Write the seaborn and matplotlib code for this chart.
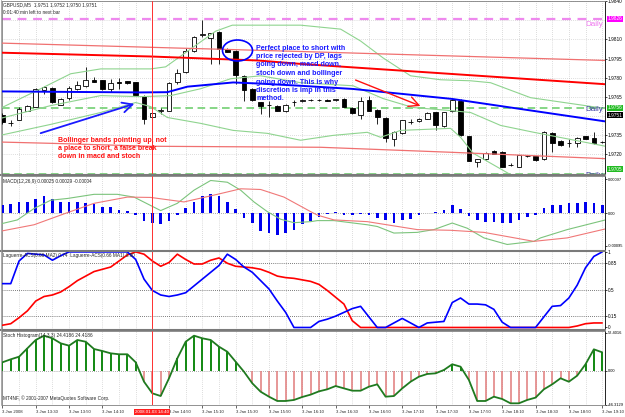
import numpy as np
import matplotlib
matplotlib.use("Agg")
import matplotlib.pyplot as plt
import matplotlib.transforms as mtransforms
from matplotlib.patches import Ellipse, FancyArrowPatch
from matplotlib.lines import Line2D
import seaborn as sns

# ---------------- data ----------------
symbol_line = "GBPUSD,M5  1.9751 1.9752 1.9750 1.9751"
timer_line = "0:01:40 min left to next bar"

open_ = [
    1.97505, 1.97448, 1.97471, 1.97543, 1.97574, 1.97704, 1.97719, 1.97590, 1.97642, 1.97711,
    1.97732, 1.97781, 1.97781, 1.97711, 1.97763, 1.97771, 1.97763, 1.97660, 1.97492, 1.97543,
    1.97543, 1.97763, 1.97841, 1.98009, 1.98136, 1.98112, 1.98156, 1.98022, 1.98009, 1.97815,
    1.97711, 1.97608, 1.97584, 1.97580, 1.97536, 1.97608, 1.97621, 1.97626, 1.97626, 1.97623,
    1.97625, 1.97634, 1.97564, 1.97505, 1.97626, 1.97548, 1.97484, 1.97323, 1.97367, 1.97453,
    1.97461, 1.97479, 1.97530, 1.97419, 1.97538, 1.97621, 1.97341, 1.97137, 1.97161, 1.97225,
    1.97220, 1.97116, 1.97104, 1.97186, 1.97186, 1.97161, 1.97367, 1.97305, 1.97290, 1.97290,
    1.97341, 1.97331, 1.97297]
high = [
    1.97523, 1.97466, 1.97574, 1.97587, 1.97716, 1.97737, 1.97725, 1.97640, 1.97737, 1.97776,
    1.97880, 1.97802, 1.97786, 1.97789, 1.97797, 1.97776, 1.97770, 1.97665, 1.97530, 1.97564,
    1.97763, 1.97867, 1.98035, 1.98123, 1.98255, 1.98151, 1.98169, 1.98030, 1.98014, 1.97820,
    1.97716, 1.97613, 1.97621, 1.97585, 1.97592, 1.97626, 1.97630, 1.97633, 1.97635, 1.97630,
    1.97635, 1.97640, 1.97569, 1.97647, 1.97660, 1.97553, 1.97489, 1.97380, 1.97471, 1.97479,
    1.97484, 1.97528, 1.97535, 1.97535, 1.97631, 1.97634, 1.97346, 1.97166, 1.97217, 1.97238,
    1.97225, 1.97135, 1.97199, 1.97194, 1.97191, 1.97380, 1.97372, 1.97310, 1.97323, 1.97336,
    1.97346, 1.97375, 1.97305]
low = [
    1.97435, 1.97419, 1.97466, 1.97538, 1.97570, 1.97673, 1.97603, 1.97585, 1.97626, 1.97706,
    1.97727, 1.97763, 1.97706, 1.97686, 1.97711, 1.97750, 1.97662, 1.97435, 1.97485, 1.97517,
    1.97538, 1.97750, 1.97836, 1.98004, 1.98118, 1.97905, 1.97905, 1.97998, 1.97750, 1.97621,
    1.97621, 1.97517, 1.97492, 1.97538, 1.97531, 1.97582, 1.97610, 1.97620, 1.97615, 1.97615,
    1.97618, 1.97570, 1.97518, 1.97479, 1.97538, 1.97440, 1.97298, 1.97264, 1.97362, 1.97435,
    1.97456, 1.97474, 1.97388, 1.97414, 1.97533, 1.97344, 1.97145, 1.97104, 1.97156, 1.97202,
    1.97099, 1.97110, 1.97099, 1.97180, 1.97150, 1.97156, 1.97220, 1.97267, 1.97259, 1.97259,
    1.97318, 1.97285, 1.97292]
close = [
    1.97453, 1.97443, 1.97556, 1.97582, 1.97711, 1.97730, 1.97608, 1.97634, 1.97717, 1.97745,
    1.97781, 1.97768, 1.97711, 1.97755, 1.97760, 1.97755, 1.97667, 1.97479, 1.97523, 1.97546,
    1.97758, 1.97833, 1.98009, 1.98118, 1.98139, 1.98146, 1.98022, 1.98004, 1.97823, 1.97704,
    1.97629, 1.97582, 1.97590, 1.97543, 1.97587, 1.97610, 1.97623, 1.97628, 1.97623, 1.97620,
    1.97632, 1.97574, 1.97523, 1.97621, 1.97543, 1.97492, 1.97331, 1.97375, 1.97466, 1.97455,
    1.97479, 1.97523, 1.97427, 1.97530, 1.97626, 1.97349, 1.97150, 1.97161, 1.97212, 1.97207,
    1.97104, 1.97118, 1.97194, 1.97188, 1.97155, 1.97375, 1.97290, 1.97272, 1.97292, 1.97331,
    1.97323, 1.97290, 1.97299]

# indicator lines on the price panel: (bar position, price)
lag_top_bar = [-0.3, 35.8, 72.4]
lag_top_px = [1.98071, 1.98005, 1.97935]
lag_mid_bar = [-0.3, 17.8, 30.6, 35.8, 53.8, 72.4]
lag_mid_px = [1.97996, 1.97966, 1.97935, 1.97908, 1.97830, 1.97749]
lag_low_bar = [-0.3, 5.8, 17.8, 38.2, 53.8, 72.4]
lag_low_px = [1.97297, 1.97287, 1.97264, 1.97256, 1.97217, 1.97167]
blue_bar = [-0.3, 16.6, 19.8, 22.2, 27.7, 30.6, 35.8, 42.1, 54.0, 72.4]
blue_px = [1.97693, 1.97685, 1.97687, 1.97730, 1.97763, 1.97755, 1.97737, 1.97712, 1.97634, 1.97458]
bb_up_bar = [-0.3, 4.6, 8.2, 11.8, 17.8, 19.6, 22.6, 25.6, 27.6, 35.8, 40.6, 43.0, 45.7, 49.0, 52.6, 56.2, 58.6, 63.4, 72.4]
bb_up_px = [1.97559, 1.97714, 1.97831, 1.97869, 1.97869, 1.97885, 1.98025, 1.98164, 1.98211, 1.98211,
            1.98180, 1.98087, 1.97955, 1.97815, 1.97784, 1.97776, 1.97761, 1.97644, 1.97559]
bb_mid_bar = [-0.3, 5.8, 11.8, 16.6, 20.2, 23.8, 27.4, 31.0, 35.8, 42.1, 45.7, 49.3, 53.8, 56.2, 59.8, 63.8, 72.4]
bb_mid_px = [1.97481, 1.97582, 1.97660, 1.97652, 1.97660, 1.97714, 1.97792, 1.97815, 1.97761, 1.97737,
             1.97637, 1.97567, 1.97543, 1.97528, 1.97427, 1.97373, 1.97264]
bb_low_bar = [-0.3, 5.8, 11.8, 16.0, 17.8, 19.8, 23.8, 27.7, 31.8, 35.8, 39.7, 43.8, 45.4, 47.8, 53.8, 55.0, 56.5, 61.3]
bb_low_px = [1.97349, 1.97435, 1.97528, 1.97606, 1.97574, 1.97489, 1.97443, 1.97388, 1.97365, 1.97311,
             1.97349, 1.97373, 1.97334, 1.97388, 1.97404, 1.97334, 1.97210, 1.97031]
daily_pivot = 1.9826
daily_mid = 1.9756
daily_low = 1.9705
bid_price = 1.9751
price_ticks = [1.9840, 1.9810, 1.9795, 1.9780, 1.9765, 1.9735, 1.9720]

# MACD
macd_hist = [
    0.00024, 0.00026, 0.00031, 0.00033, 0.00040, 0.00048, 0.00040, 0.00033, 0.00033, 0.00031,
    0.00029, 0.00026, 0.00016, 0.00016, 0.00009, 0.00007, -0.00005, -0.00022, -0.00030, -0.00033,
    -0.00022, -0.00007, 0.00014, 0.00033, 0.00049, 0.00054, 0.00048, 0.00033, 0.00011, -0.00014,
    -0.00029, -0.00052, -0.00057, -0.00065, -0.00057, -0.00048, -0.00033, -0.00024, -0.00013, -0.00002,
    0.00002, -0.00005, -0.00007, -0.00004, -0.00007, -0.00014, -0.00021, -0.00029, -0.00019, -0.00016,
    -0.00007, -0.00001, 0.00002, 0.00009, 0.00022, 0.00011, -0.00009, -0.00021, -0.00026, -0.00026,
    -0.00030, -0.00030, -0.00019, -0.00011, -0.00005, 0.00015, 0.00022, 0.00024, 0.00029, 0.00030,
    0.00031, 0.00029, 0.00024]
macd_main_bar = [-0.3, 1.8, 3.8, 5.8, 7.8, 11.0, 13.8, 15.8, 19.0, 21.0, 23.0, 25.0, 27.0, 28.6, 30.2,
                 31.8, 33.4, 35.0, 37.0, 37.8, 39.8, 41.8, 43.8, 45.0, 47.0, 49.8, 51.8, 54.0, 55.8,
                 57.8, 60.6, 63.8, 64.6, 67.8, 72.4]
macd_main = [-0.00032, -0.00020, 0.00013, 0.00037, 0.00042, 0.00054, 0.00054, 0.00046, 0.00007, 0.00028,
             0.00066, 0.00094, 0.00089, 0.00066, 0.00032, 0.00004, -0.00018, -0.00028, -0.00025, -0.00022,
             -0.00022, -0.00028, -0.00034, -0.00039, -0.00058, -0.00056, -0.00048, -0.00029, -0.00044,
             -0.00072, -0.00091, -0.00082, -0.00072, -0.00048, -0.00020]
macd_signal_bar = [-0.3, 3.8, 7.8, 11.0, 15.0, 17.8, 21.8, 25.8, 28.6, 31.0, 33.8, 37.0, 37.8, 39.8,
                   43.8, 49.8, 53.8, 57.8, 63.8, 67.8, 72.4]
macd_signal = [-0.00053, -0.00034, 0.00001, 0.00028, 0.00046, 0.00045, 0.00032, 0.00054, 0.00070, 0.00068,
               0.00046, 0.00004, -0.00006, -0.00020, -0.00025, -0.00048, -0.00050, -0.00056, -0.00082,
               -0.00072, -0.00046]

# Laguerre ACS (one value per bar)
laguerre_fast = [
    0.58, 0.58, 0.88, 0.98, 0.97, 0.96, 0.89, 0.95, 1.00, 1.00,
    1.00, 1.00, 1.00, 1.00, 1.00, 1.00, 0.90, 0.64, 0.49, 0.43,
    0.41, 0.43, 0.46, 0.55, 0.64, 0.73, 0.82, 0.97, 0.90, 0.80,
    0.73, 0.62, 0.51, 0.35, 0.20, 0.00, 0.00, 0.00, 0.08, 0.11,
    0.15, 0.20, 0.25, 0.28, 0.14, 0.00, 0.00, 0.06, 0.12, 0.06,
    0.00, 0.06, 0.07, 0.08, 0.33, 0.39, 0.31, 0.31, 0.30, 0.24,
    0.07, 0.00, 0.00, 0.00, 0.00, 0.14, 0.28, 0.29, 0.39, 0.56,
    0.79, 0.94, 1.00]
laguerre_slow = [
    0.03, 0.05, 0.13, 0.22, 0.35, 0.41, 0.43, 0.47, 0.54, 0.62,
    0.68, 0.74, 0.77, 0.80, 0.88, 0.96, 1.00, 0.97, 0.88, 0.81,
    0.86, 0.97, 0.90, 0.84, 0.84, 0.89, 0.92, 0.85, 0.81, 0.80,
    0.79, 0.77, 0.73, 0.68, 0.66, 0.65, 0.63, 0.61, 0.57, 0.49,
    0.40, 0.31, 0.09, 0.00, 0.00, 0.00, 0.00, 0.00, 0.00, 0.00,
    0.00, 0.00, 0.00, 0.00, 0.00, 0.00, 0.00, 0.00, 0.00, 0.00,
    0.00, 0.00, 0.00, 0.00, 0.00, 0.00, 0.00, 0.00, 0.00, 0.02,
    0.05, 0.06, 0.06]
laguerre_levels = [0.85, 0.5, 0.15]

# Stoch histogram
stoch_hist = [
    11.9, 16.0, 19.6, 31.1, 42.5, 48.4, 44.8, 37.9, 34.7, 42.5,
    40.1, 30.1, 27.4, 24.2, 22.9, 22.9, 11.9, -14.7, -30.6, -34.3,
    -10.0, 17.4, 40.1, 48.4, 44.8, 42.5, 33.3, 26.4, 12.7, -1.0,
    -16.9, -28.4, -35.2, -41.1, -41.1, -39.7, -35.6, -32.4, -27.9, -25.1,
    -20.6, -23.8, -27.0, -27.0, -21.5, -18.3, -35.2, -34.3, -23.8, -14.7,
    -7.8, -4.1, -3.2, 1.4, 9.2, 5.9, -12.3, -41.1, -41.1, -35.2,
    -38.4, -44.3, -44.3, -39.7, -36.5, -25.1, -18.3, -10.0, -14.7, -6.4,
    9.2, 29.7, 25.6]

time_tick_bars = [0, 4, 8, 12, 20, 24, 28, 32, 36, 40, 44, 48, 52, 56, 60, 64, 68, 72]
time_tick_labels = ["3 Jan 2008", "3 Jan 13:30", "3 Jan 13:50", "3 Jan 14:10", "3 Jan 14:50",
                    "3 Jan 15:10", "3 Jan 15:30", "3 Jan 15:50", "3 Jan 16:10", "3 Jan 16:30",
                    "3 Jan 16:50", "3 Jan 17:10", "3 Jan 17:30", "3 Jan 17:50", "3 Jan 18:10",
                    "3 Jan 18:30", "3 Jan 18:50", "3 Jan 19:10"]
cross_bar = 18
cross_label = "2008.01.03 14:40"

macd_legend = "MACD(12,26,9) 0.00025 0.00029 -0.00004"
lag_legend = "Laguerre-ACS(0.66 MA2) 0.74  Laguerre-ACS(0.66 MA1) 0.90"
stoch_legend = "Stoch Histogram(14,3,3) 24.4186 24.4186"
copyright_text = "MT4NF, \u00a9 2001-2007 MetaQuotes Software Corp."

note_blue = ("Perfect place to short with\nprice rejected by DP, lags\ngoing down, macd down,\n"
             "stoch down and bollinger\ngoing down. This is why\ndiscretion is imp in this\nmethod.")
note_red = "Bollinger bands pointing up, not\na place to short, a false break\ndown in macd and stoch"

# ---------------- drawing ----------------
sns.set_theme(style="white")
plt.rcParams['font.family'] = ['Liberation Sans', 'DejaVu Sans']

W, H = 625, 417
fig = plt.figure(figsize=(W / 100, H / 100), dpi=100)
fig.patch.set_facecolor('white')


def fx(x):
    return x / W


def fy(y):
    return 1 - y / H


XL = (-0.05, 72.34)
GRID = '#bdbdbd'


def panel(y0, y1, label_size=3.4):
    ax = fig.add_axes([fx(2), fy(y1), (605 - 2) / W, (y1 - y0) / H])
    ax.set_facecolor('white')
    ax.set_xlim(*XL)
    for s in ax.spines.values():
        s.set_color('#808080')
        s.set_linewidth(0.6)
    ax.spines['right'].set_color('black')
    ax.yaxis.tick_right()
    ax.tick_params(axis='y', length=1.6, width=0.5, labelsize=label_size, pad=0.6, colors='black', right=True)
    ax.tick_params(axis='x', bottom=False, labelbottom=False)
    for b in range(2, 73, 2):
        ax.axvline(b, color=GRID, lw=0.5, ls=(0, (1, 2)), zorder=0)
    ax.axvline(cross_bar, color='#ff3030', lw=0.7, zorder=5)
    ax.grid(False)
    return ax


def line(ax, xs, ys, color, lw, z=4, ls='-'):
    sns.lineplot(x=np.asarray(xs), y=np.asarray(ys), ax=ax, color=color, linewidth=lw,
                 estimator=None, sort=False, zorder=z, linestyle=ls)
    ax.set_xlabel('')
    ax.set_ylabel('')


# ---- price panel ----
axm = panel(1, 174, 3.4)
axm.set_ylim(1.97047, 1.98400)
for p in np.arange(1.9705, 1.9841, 0.0015):
    axm.axhline(p, color=GRID, lw=0.5, ls=(0, (1, 2)), zorder=0)
axm.set_yticks(price_ticks)
axm.set_yticklabels([f"{p:.4f}" for p in price_ticks])

axm.axhline(daily_pivot, color='#ee88ee', lw=1.6, ls=(0, (4, 3)), zorder=2)
axm.axhline(daily_mid, color='#66cc66', lw=1.1, ls=(0, (5, 3)), zorder=2)
axm.axhline(daily_low, color='#66cc66', lw=1.1, ls=(0, (5, 3)), zorder=2)

o = np.array(open_)
c = np.array(close)
hi = np.array(high)
lo = np.array(low)
idx = np.arange(len(o))
up = c >= o
axm.vlines(idx, lo, hi, color='black', lw=0.6, zorder=3)
axm.bar(idx, np.maximum(np.abs(c - o), 0.000012), bottom=np.minimum(o, c), width=0.56,
        color=np.where(up, 'white', 'black'), edgecolor='black', linewidth=0.6, zorder=3.1)

line(axm, bb_up_bar, bb_up_px, '#8fd48f', 0.8)
line(axm, bb_mid_bar, bb_mid_px, '#8fd48f', 0.8)
line(axm, bb_low_bar, bb_low_px, '#8fd48f', 0.8)
line(axm, lag_top_bar, lag_top_px, '#f07070', 0.9)
line(axm, lag_low_bar, lag_low_px, '#f07070', 0.9)
line(axm, lag_mid_bar, lag_mid_px, '#ff0000', 1.4)
line(axm, blue_bar, blue_px, '#0000ff', 1.4)

btr = mtransforms.blended_transform_factory(axm.transAxes, axm.transData)
for val, fc, tc in [(daily_pivot, '#ff00ff', 'white'), (daily_mid, '#22bb22', 'white'),
                    (bid_price, 'black', 'white'), (daily_low, '#22bb22', 'white')]:
    yv = val + (0.00005 if val == daily_mid else 0) - (0.00002 if val == bid_price else 0)
    yv = max(yv, 1.97085)
    axm.text(1.004, yv, f"{val:.4f}", transform=btr, fontsize=3.4, color=tc, ha='left', va='center',
             bbox=dict(boxstyle='square,pad=0.12', fc=fc, ec='none'), clip_on=False, zorder=6)

axm.text(0.997, daily_pivot - 0.00045, "Daily", transform=btr, fontsize=5.8, color='#ee77ee',
         ha='right', va='center', zorder=6)
axm.text(0.997, daily_mid - 0.0001, "Daily", transform=btr, fontsize=5.8, color='#3a3aa0',
         ha='right', va='center', zorder=6)
axm.text(0.997, daily_low - 0.00012, "Daily", transform=btr, fontsize=5.8, color='#3a3aa0',
         ha='right', va='center', zorder=6, clip_on=True)

# ---- MACD panel ----
axd = panel(176, 250, 2.9)
axd.set_ylim(-0.00107, 0.00107)
axd.axhline(0, color='#606060', lw=0.5, ls=(0, (1, 2)), zorder=0)
axd.bar(idx, macd_hist, width=0.32, color='#0000ee', linewidth=0, zorder=3)
line(axd, macd_main_bar, macd_main, '#7cc47c', 0.8)
line(axd, macd_signal_bar, macd_signal, '#f07878', 0.8)
axd.set_yticks([0.00097, 0.0, -0.00095])
axd.set_yticklabels(["0.00097", "0.00", "-0.00095"])

# ---- Laguerre panel ----
axl = panel(251, 329, 3.4)
axl.set_ylim(-0.02, 1.012)
for lv in laguerre_levels:
    axl.axhline(lv, color='#505050', lw=0.6, ls=(0, (1, 1.5)), zorder=1)
line(axl, idx, laguerre_slow, '#ff0000', 1.2)
line(axl, idx, laguerre_fast, '#0000ff', 1.2)
axl.set_yticks([1, 0.85, 0.5, 0.15, 0])
axl.set_yticklabels(["1", "0.85", "0.5", "0.15", "0"])

# ---- Stoch panel ----
axs = panel(331, 405, 2.9)
axs.set_ylim(-46.6, 54.8)
axs.axhline(0, color='#606060', lw=0.5, ls=(0, (1, 2)), zorder=0)
sh = np.array(stoch_hist)
pos = sh >= 0
axs.vlines(idx[pos], 0, sh[pos], colors='#118811', lw=1.4, zorder=3)
axs.vlines(idx[~pos], 0, sh[~pos], colors='#e07a7a', lw=1.1, zorder=3)
line(axs, idx, sh, '#1f7a1f', 1.3)
axs.set_yticks([52.4016, 0.0, -46.3129])
axs.set_yticklabels(["52.4016", "0.00", "-46.3129"])
axs.set_xticks(time_tick_bars)
axs.set_xticklabels(time_tick_labels, ha='left')
axs.tick_params(axis='x', bottom=True, labelbottom=True, length=2, width=0.5, labelsize=3.1, pad=1.8)
ttr = mtransforms.blended_transform_factory(axs.transData, axs.transAxes)
axs.text(cross_bar, -0.09, cross_label, transform=ttr, fontsize=3.2, color='white', ha='center',
         va='center', bbox=dict(boxstyle='square,pad=0.25', fc='#ff2020', ec='none'), zorder=7, clip_on=False)

# ---- separators and frame ----
for ys in (175, 250.5, 330):
    fig.add_artist(Line2D([0, fx(605)], [fy(ys), fy(ys)], color='#7a7a7a', lw=1.5))
fig.add_artist(Line2D([fx(1), fx(1)], [fy(0), fy(405)], color='#9a9a9a', lw=0.6))

# ---- texts ----
fs_small = 3.4
fig.text(fx(3), fy(5), symbol_line, fontsize=fs_small, va='center')
fig.text(fx(3), fy(12), timer_line, fontsize=fs_small, va='center')
fig.text(fx(3), fy(181), macd_legend, fontsize=fs_small, va='center')
fig.text(fx(3), fy(256), lag_legend, fontsize=fs_small, va='center')
fig.text(fx(3), fy(336), stoch_legend, fontsize=fs_small, va='center')
fig.text(fx(3), fy(398), copyright_text, fontsize=fs_small, va='center')

fig.text(fx(256.5), fy(44.5), note_blue, fontsize=5.15, fontweight='bold', color='#1a1aff',
         va='top', ha='left', linespacing=1.3)
fig.text(fx(58), fy(136.5), note_red, fontsize=5.05, fontweight='bold', color='#ff1010',
         va='top', ha='left', linespacing=1.3)

fig.add_artist(Ellipse((fx(237.5), fy(50.5)), width=30 / W, height=21 / H, transform=fig.transFigure,
                       fill=False, ec='#0000ff', lw=1.2))
fig.add_artist(FancyArrowPatch((fx(38), fy(134)), (fx(137), fy(103)), transform=fig.transFigure,
                               arrowstyle='->,head_length=0.6,head_width=0.3', mutation_scale=12,
                               color='#1a1aff', lw=1.3))
fig.add_artist(FancyArrowPatch((fx(353), fy(79)), (fx(423), fy(107)), transform=fig.transFigure,
                               arrowstyle='->,head_length=0.6,head_width=0.3', mutation_scale=12,
                               color='#ff1010', lw=1.0))

fig.savefig('out.png', dpi=100)
